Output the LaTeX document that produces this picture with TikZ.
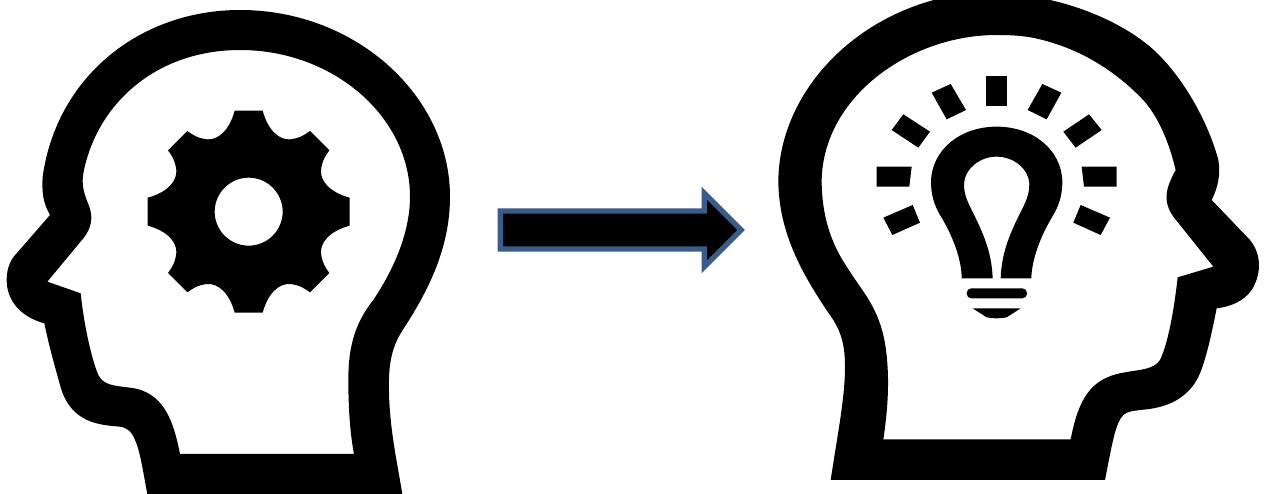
\documentclass[tikz,border=0pt]{standalone}
\definecolor{arrowblue}{HTML}{385D8A}
\tikzset{
  zoomunits/.style={x=0.33333pt,y=-0.33333pt},
  ink/.style={fill=black,draw=none},
  inkhole/.style={fill=black,draw=none,even odd rule},
  blockarrow/.style={fill=black,draw=arrowblue,line width=5.3pt,miter limit=10,line join=miter}
}
\begin{document}
\begin{tikzpicture}
\useasboundingbox (0pt,0pt) rectangle (1268pt,-494pt);
\fill[white] (0pt,0pt) rectangle (1268pt,-494pt);
\clip (0pt,0pt) rectangle (1268pt,-494pt);

% left head
\begin{scope}[zoomunits]
\path[inkhole]
  (442,1482) .. controls (430,1420) and (420,1350) .. (405,1320)
  .. controls (395,1295) and (385,1285) .. (360,1280)
  .. controls (300,1275) and (210,1270) .. (180,1155)
  .. controls (165,1100) and (150,1050) .. (133,970)
  .. controls (60,950) and (20,900) .. (20,840)
  .. controls (20,800) and (35,775) .. (50,760)
  -- (150,645)
  .. controls (130,610) and (125,580) .. (128,530)
  .. controls (170,230) and (420,30) .. (720,30)
  .. controls (1070,30) and (1350,290) .. (1350,590)
  .. controls (1350,750) and (1280,880) .. (1205,995)
  .. controls (1170,1050) and (1165,1110) .. (1167,1180)
  .. controls (1170,1290) and (1190,1380) .. (1207,1482)
  -- cycle
  (540,1362)
  .. controls (520,1260) and (490,1175) .. (390,1163)
  .. controls (340,1157) and (310,1155) .. (295,1125)
  .. controls (280,1090) and (255,1000) .. (242,880)
  -- (142,845)
  -- (250,715)
  .. controls (285,670) and (275,635) .. (262,605)
  .. controls (250,575) and (245,550) .. (250,520)
  .. controls (290,310) and (470,150) .. (720,150)
  .. controls (1000,150) and (1230,350) .. (1230,590)
  .. controls (1230,700) and (1180,810) .. (1120,900)
  .. controls (1060,975) and (1045,1050) .. (1045,1140)
  .. controls (1045,1220) and (1050,1300) .. (1062,1362)
  -- cycle;
\end{scope}

% gear
\begin{scope}[zoomunits,shift={(248.67pt,-211.67pt)}]
\path[inkhole]
  (42,-303)
  \foreach \a in {0,-90,-180,-270} {
    .. controls ([rotate=\a]59,-240) and ([rotate=\a]94,-215) .. ([rotate=\a]124,-217)
    .. controls ([rotate=\a]154,-220) and ([rotate=\a]170,-232) .. ([rotate=\a]184,-242)
    -- ([rotate=\a]242,-184)
    .. controls ([rotate=\a]232,-170) and ([rotate=\a]220,-154) .. ([rotate=\a]217,-124)
    .. controls ([rotate=\a]215,-94) and ([rotate=\a]240,-59) .. ([rotate=\a]303,-42)
    -- ([rotate=\a]303,42)
  } -- cycle
  (0,0) circle[radius=34pt];
\end{scope}

% arrow
\begin{scope}[zoomunits,shift={(485pt,-175pt)}]
\path[blockarrow]
  (46,108) -- (658,108) -- (658,55) -- (768,165) -- (658,275) -- (658,222) -- (46,222) -- cycle;
\end{scope}

% right head
\begin{scope}[zoomunits,shift={(770pt,0pt)}]
\path[inkhole]
  (182,1440)
  .. controls (205,1290) and (225,1190) .. (225,1100)
  .. controls (225,1040) and (215,1000) .. (190,960)
  .. controls (100,830) and (25,700) .. (25,540)
  .. controls (30,240) and (320,-25) .. (680,-25)
  .. controls (740,-25) and (790,-12) .. (840,0)
  .. controls (930,20) and (1050,65) .. (1140,140)
  .. controls (1225,212) and (1310,350) .. (1345,480)
  .. controls (1352,520) and (1345,560) .. (1325,600)
  -- (1440,720)
  .. controls (1480,770) and (1470,830) .. (1445,870)
  .. controls (1420,905) and (1380,920) .. (1340,925)
  .. controls (1325,1000) and (1310,1070) .. (1290,1120)
  .. controls (1260,1190) and (1200,1220) .. (1130,1228)
  .. controls (1090,1232) and (1070,1235) .. (1060,1245)
  .. controls (1035,1270) and (1025,1340) .. (1005,1440)
  -- cycle
  (340,1318)
  .. controls (355,1220) and (360,1120) .. (345,1030)
  .. controls (325,920) and (280,880) .. (230,800)
  .. controls (170,710) and (155,620) .. (155,540)
  .. controls (160,290) and (420,105) .. (680,105)
  .. controls (730,105) and (770,108) .. (810,118)
  .. controls (920,145) and (1020,200) .. (1110,290)
  .. controls (1170,350) and (1200,440) .. (1217,510)
  .. controls (1190,560) and (1175,600) .. (1210,650)
  -- (1330,800)
  -- (1223,832)
  .. controls (1210,950) and (1190,1040) .. (1170,1080)
  .. controls (1150,1110) and (1110,1108) .. (1060,1118)
  .. controls (960,1135) and (925,1200) .. (902,1318)
  -- cycle;
\end{scope}

% bulb and rays
\begin{scope}[zoomunits,shift={(860pt,-60pt)}]
\path[ink]
  (305,655)
  .. controls (305,600) and (280,530) .. (240,465)
  .. controls (220,430) and (213,400) .. (213,365)
  .. controls (215,270) and (300,200) .. (410,200)
  .. controls (520,200) and (605,270) .. (607,365)
  .. controls (607,400) and (600,430) .. (580,465)
  .. controls (540,530) and (515,600) .. (514,655)
  -- (422,655)
  .. controls (425,570) and (455,510) .. (490,440)
  .. controls (505,410) and (508,390) .. (508,370)
  .. controls (505,325) and (460,290) .. (410,290)
  .. controls (360,290) and (315,325) .. (312,370)
  .. controls (312,390) and (315,410) .. (330,440)
  .. controls (365,510) and (395,570) .. (398,655)
  -- cycle;
\path[ink,rounded corners=14pt*0.33333] (320,685) rectangle (501,715);
\path[ink] (338,745) -- (482,745) -- (440,772) .. controls (420,776) and (400,776) .. (380,772) -- cycle;
\path[ink] (378,47) -- (442,47) -- (442,138) -- (378,138) -- cycle;
\path[ink] (547,72) -- (604,98) -- (560,178) -- (503,150) -- cycle;
\path[ink] (215,98) -- (272,72) -- (318,150) -- (260,178) -- cycle;
\path[ink] (130,163) -- (210,215) -- (175,263) -- (95,210) -- cycle;
\path[ink] (687,163) -- (725,210) -- (647,263) -- (610,215) -- cycle;
\path[ink] (50,320) -- (155,320) -- (148,380) -- (50,380) -- cycle;
\path[ink] (665,320) -- (770,320) -- (770,380) -- (672,380) -- cycle;
\path[ink] (70,473) -- (158,435) -- (180,488) -- (97,525) -- cycle;
\path[ink] (662,435) -- (750,473) -- (722,525) -- (640,488) -- cycle;
\end{scope}
\end{tikzpicture}
\end{document}
